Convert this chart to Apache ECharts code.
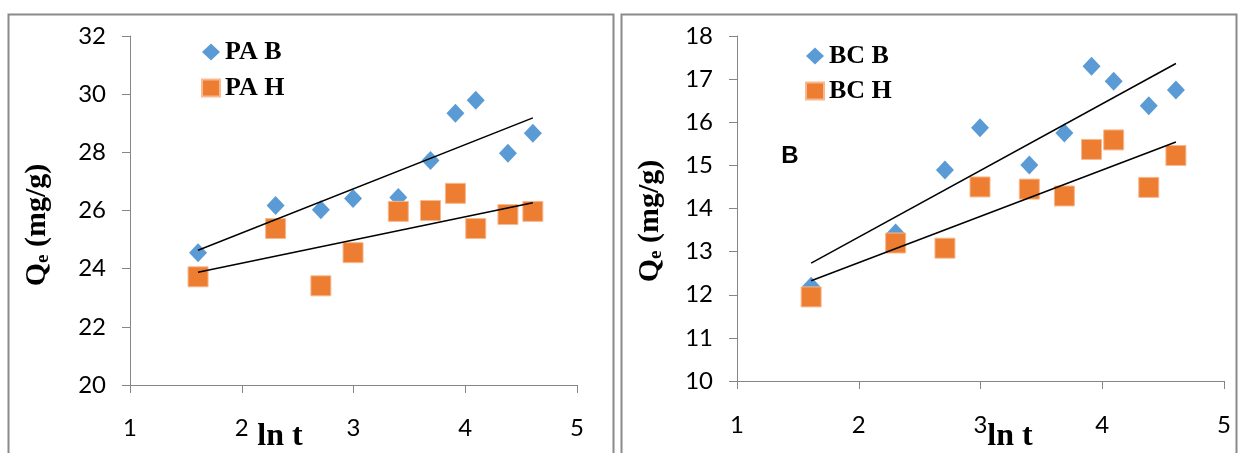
<!DOCTYPE html>
<html><head><meta charset="utf-8">
<script src="https://cdn.jsdelivr.net/npm/echarts@6/dist/echarts.min.js"></script>
<style>html,body{margin:0;padding:0;background:#fff}#c{width:1239px;height:453px}</style>
</head><body><div id="c"></div>
<script>
const lnT = [1.609, 2.303, 2.708, 2.996, 3.401, 3.689, 3.912, 4.094, 4.382, 4.605];
const paB = [24.55, 26.17, 26.03, 26.41, 26.45, 27.72, 29.34, 29.79, 27.97, 28.66];
const paH = [23.72, 25.38, 23.41, 24.55, 25.97, 26.00, 26.59, 25.38, 25.86, 25.97];
const bcB = [12.20, 13.43, 14.89, 15.87, 15.01, 15.75, 17.30, 16.95, 16.38, 16.75];
const bcH = [11.95, 13.20, 13.08, 14.50, 14.45, 14.29, 15.37, 15.59, 14.49, 15.23];
const xTicks = [1, 2, 3, 4, 5];
const leftYTicks = [20, 22, 24, 26, 28, 30, 32];
const rightYTicks = [10, 11, 12, 13, 14, 15, 16, 17, 18];

const BLUE = '#5B9BD5', ORANGE = '#ED7D31', AXIS = '#868686';
const LABEL_FONT = 'Lato';
const SERIF = '"Liberation Serif", "Times New Roman", serif';

function pairs(xs, ys) { return xs.map((x, i) => [x, ys[i]]); }
function trend(xs, ys) {
  const n = xs.length;
  const mx = xs.reduce((a, b) => a + b, 0) / n;
  const my = ys.reduce((a, b) => a + b, 0) / n;
  let sxy = 0, sxx = 0;
  for (let i = 0; i < n; i++) { sxy += (xs[i] - mx) * (ys[i] - my); sxx += (xs[i] - mx) ** 2; }
  const b = sxy / sxx, a = my - b * mx;
  const x0 = Math.min(...xs), x1 = Math.max(...xs);
  return [[x0, a + b * x0], [x1, a + b * x1]];
}

function xAxisCfg(gi, margin) {
  return {
    gridIndex: gi, type: 'value', min: xTicks[0], max: xTicks[xTicks.length - 1], interval: 1,
    axisLine: { show: true, lineStyle: { color: AXIS, width: 1 } },
    axisTick: { show: true, length: 8, lineStyle: { color: AXIS } },
    axisLabel: { margin: margin, color: '#000', fontFamily: LABEL_FONT, fontSize: 24 },
    splitLine: { show: false }
  };
}
function yAxisCfg(gi, ticks) {
  return {
    gridIndex: gi, type: 'value', min: ticks[0], max: ticks[ticks.length - 1], interval: ticks[1] - ticks[0],
    axisLine: { show: true, lineStyle: { color: AXIS, width: 1 } },
    axisTick: { show: true, length: 8, lineStyle: { color: AXIS } },
    axisLabel: { margin: 24, color: '#000', fontFamily: LABEL_FONT, fontSize: 24 },
    splitLine: { show: false }
  };
}
function scatter(name, gi, ys, sym) {
  const isSq = sym === 'square';
  return {
    name, type: 'scatter', xAxisIndex: gi, yAxisIndex: gi,
    data: pairs(lnT, ys), symbol: isSq ? 'rect' : 'diamond',
    symbolSize: isSq ? [20, 20] : [18, 19],
    itemStyle: isSq ? { color: ORANGE, borderColor: '#F6B990', borderWidth: 1, opacity: 1 } : { color: BLUE, opacity: 1 },
    z: isSq ? 3 : 2
  };
}
function line(gi, ys) {
  return {
    type: 'line', xAxisIndex: gi, yAxisIndex: gi, data: trend(lnT, ys),
    symbol: 'none', lineStyle: { color: '#000', width: 1.5 }, z: 5, silent: true
  };
}
const legendText = { fontFamily: SERIF, fontWeight: 'bold', fontSize: 26, color: '#000', lineHeight: 26 };
const yTitleRich = {
  q: { fontFamily: SERIF, fontWeight: 'bold', fontSize: 30, color: '#000', lineHeight: 32 },
  e: { fontFamily: SERIF, fontWeight: 'bold', fontSize: 19, color: '#000', lineHeight: 19, verticalAlign: 'bottom' }
};

const option = {
  animation: false,
  backgroundColor: '#fff',
  grid: [
    { left: 130, top: 36, width: 447, height: 349 },
    { left: 737, top: 36, width: 487, height: 345 }
  ],
  xAxis: [xAxisCfg(0, 31), xAxisCfg(1, 32)],
  yAxis: [yAxisCfg(0, leftYTicks), yAxisCfg(1, rightYTicks)],
  legend: [
    { data: [{ name: 'PA B', icon: 'diamond' }, { name: 'PA H', icon: 'rect' }], orient: 'vertical', left: 196, top: 34,
      itemWidth: 18, itemHeight: 17, itemGap: 10, textStyle: legendText },
    { data: [{ name: 'BC B', icon: 'diamond' }, { name: 'BC H', icon: 'rect' }], orient: 'vertical', left: 800, top: 38,
      itemWidth: 18, itemHeight: 17, itemGap: 9, textStyle: legendText }
  ],
  series: [
    scatter('PA B', 0, paB, 'diamond'),
    scatter('PA H', 0, paH, 'square'),
    line(0, paB), line(0, paH),
    scatter('BC B', 1, bcB, 'diamond'),
    scatter('BC H', 1, bcH, 'square'),
    line(1, bcB), line(1, bcH)
  ],
  graphic: [
    { type: 'rect', shape: { x: 8.5, y: 14.5, width: 605, height: 460 }, style: { fill: 'none', stroke: '#8a8a8a', lineWidth: 2 }, silent: true },
    { type: 'rect', shape: { x: 621.5, y: 14.5, width: 615, height: 460 }, style: { fill: 'none', stroke: '#8a8a8a', lineWidth: 2 }, silent: true },
    { type: 'text', x: 280, y: 437, style: { text: 'ln t', font: 'bold 32px ' + SERIF, fill: '#000', align: 'center', verticalAlign: 'middle' } },
    { type: 'text', x: 1010, y: 437, style: { text: 'ln t', font: 'bold 32px ' + SERIF, fill: '#000', align: 'center', verticalAlign: 'middle' } },
    { type: 'text', x: 37, y: 225, rotation: Math.PI / 2, style: { text: '{q|Q}{e|e}{q| (mg/g)}', rich: yTitleRich, align: 'center', verticalAlign: 'middle' } },
    { type: 'text', x: 650, y: 221, rotation: Math.PI / 2, style: { text: '{q|Q}{e|e}{q| (mg/g)}', rich: yTitleRich, align: 'center', verticalAlign: 'middle' } },
    { type: 'text', x: 790, y: 156, style: { text: 'B', font: 'bold 24px "Liberation Sans", Arial, sans-serif', fill: '#000', align: 'center', verticalAlign: 'middle' } }
  ]
};
const chart = echarts.init(document.getElementById('c'), null, { renderer: 'canvas' });
chart.setOption(option);
</script>
</body></html>
